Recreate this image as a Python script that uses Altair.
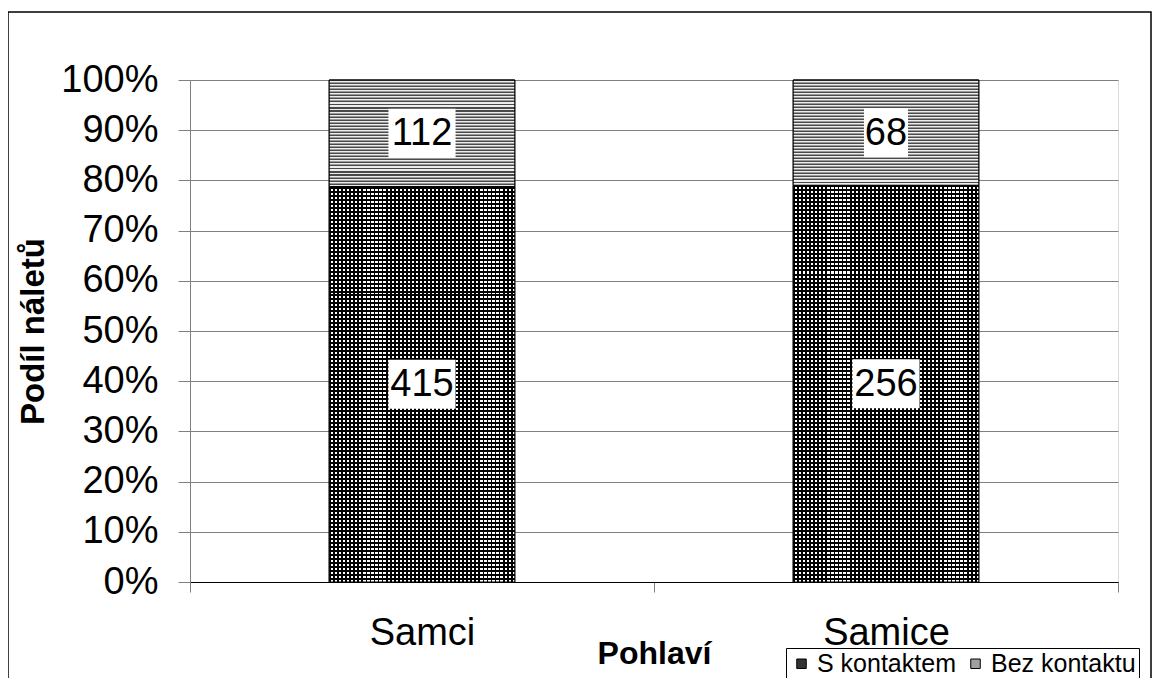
import altair as alt
import pandas as pd

# ---- data ----
categories = ["Samci", "Samice"]
series_names = ["S kontaktem", "Bez kontaktu"]
sex_col = ["Samci", "Samci", "Samice", "Samice"]
series_col = ["S kontaktem", "Bez kontaktu", "S kontaktem", "Bez kontaktu"]
counts = [415, 112, 256, 68]
stack_order = [0, 1, 0, 1]
y_ticks = [0, 0.1, 0.2, 0.3, 0.4, 0.5, 0.6, 0.7, 0.8, 0.9, 1.0]

df = pd.DataFrame({"sex": sex_col, "series": series_col, "count": counts, "ord": stack_order})

FONT = "Liberation Sans"


def stripes(n, parts, horizontal):
    stops = []
    for i in range(n):
        acc = 0.0
        for color, frac in parts:
            a = min(1.0, round((i + acc) / n, 6))
            acc += frac
            b = min(1.0, round((i + acc) / n, 6))
            stops.append({"offset": a, "color": color})
            stops.append({"offset": b, "color": color})
    return {"gradient": "linear", "x1": 0, "y1": 0,
            "x2": 1 if horizontal else 0, "y2": 0 if horizontal else 1,
            "stops": stops}


top_fill = stripes(35, [("#4a4a4a", 0.36), ("#ededed", 0.36), ("#9a9a9a", 0.28)], False)
rows_fill = stripes(99, [("#000000", 0.5), ("#ffffff", 0.5)], False)
cols_fill = stripes(46, [("#000000", 0.45), ("rgba(0,0,0,0)", 0.55)], True)

box3 = "M-1.37,-1L1.37,-1L1.37,1L-1.37,1Z"
box2 = "M-0.9,-1L0.9,-1L0.9,1L-0.9,1Z"

x_enc = alt.X(
    "sex:N", sort=categories,
    scale=alt.Scale(domain=categories, paddingInner=0, paddingOuter=0),
    axis=alt.Axis(title="Pohlaví", labelAngle=0, tickBand="extent",
                  labelFont=FONT, labelFontSize=38, labelColor="black", labelPadding=22,
                  titleFont=FONT, titleFontSize=32, titleFontWeight="bold", titleColor="black",
                  titlePadding=-14, domainColor="black", domainWidth=1,
                  tickColor="#808080", tickSize=10, tickWidth=1, grid=False),
)


def y_enc(field):
    return alt.Y(
        field,
        scale=alt.Scale(domain=[0, 1], nice=False, zero=True),
        axis=alt.Axis(title="Podíl náletů", values=y_ticks, format=".0%",
                      labelFont=FONT, labelFontSize=38, labelColor="black", labelPadding=20,
                      titleFont=FONT, titleFontSize=33, titleFontWeight="bold", titleColor="black",
                      titlePadding=10, domainColor="#808080", tickColor="#808080", tickSize=12,
                      grid=True, gridColor="#808080", gridWidth=1),
    )


base = alt.Chart(df).transform_stack(
    stack="count", groupby=["sex"], as_=["y0", "y1"], offset="normalize",
    sort=[alt.SortField("ord", order="ascending")],
).transform_calculate(
    mid="(datum.y0 + datum.y1) / 2",
    digits="toString(length(toString(datum.count)))",
)

color_enc = alt.Color(
    "series:N",
    scale=alt.Scale(domain=series_names, range=["#333333", "#a0a0a0"]),
    legend=alt.Legend(title=None, orient="none", legendX=596, legendY=568,
                      direction="horizontal", symbolType="square", symbolSize=90,
                      symbolStrokeColor="black", symbolStrokeWidth=1,
                      labelFont=FONT, labelFontSize=25, labelColor="black", labelLimit=400,
                      labelOffset=3, columnPadding=7, padding=3,
                      strokeColor="black", fillColor="white"),
)

BW = alt.RelativeBandSize(0.4)

bars = base.mark_bar(stroke="black", strokeWidth=1, width=BW).encode(
    x=x_enc, y=y_enc("y0:Q"), y2="y1:Q", color=color_enc
)

top_pat = base.transform_filter(alt.datum.series == "Bez kontaktu").mark_bar(
    fill=top_fill, stroke="black", strokeWidth=1, width=BW
).encode(x=x_enc, y=y_enc("y0:Q"), y2="y1:Q")

rows_pat = base.transform_filter(alt.datum.series == "S kontaktem").mark_bar(
    fill=rows_fill, strokeWidth=0, width=BW
).encode(x=x_enc, y=y_enc("y0:Q"), y2="y1:Q")

cols_pat = base.transform_filter(alt.datum.series == "S kontaktem").mark_bar(
    fill=cols_fill, stroke="black", strokeWidth=1, width=BW
).encode(x=x_enc, y=y_enc("y0:Q"), y2="y1:Q")

boxes = base.mark_point(filled=True, color="white", opacity=1, strokeWidth=0, size=2401).encode(
    x=x_enc, y=y_enc("mid:Q"),
    shape=alt.Shape("digits:N", scale=alt.Scale(domain=["2", "3"], range=[box2, box3]), legend=None),
)

labels = base.mark_text(font=FONT, fontSize=38, color="black", baseline="middle", dy=1).encode(
    x=x_enc, y=y_enc("mid:Q"), text="count:Q"
)

frame = alt.Chart(pd.DataFrame({"f": [0]})).mark_rect(
    filled=False, stroke="black", strokeWidth=1.5
).encode(x=alt.value(-182), x2=alt.value(961), y=alt.value(-68), y2=alt.value(640))

chart = alt.layer(bars, top_pat, rows_pat, cols_pat, boxes, labels, frame).properties(
    width=928, height=502,
    autosize=alt.AutoSizeParams(type="none"),
    padding={"left": 182, "top": 72, "right": 34, "bottom": 96},
).configure_view(stroke=None).configure(background="white")

chart.save("out.html", embed_options={"renderer": "svg", "actions": False})
